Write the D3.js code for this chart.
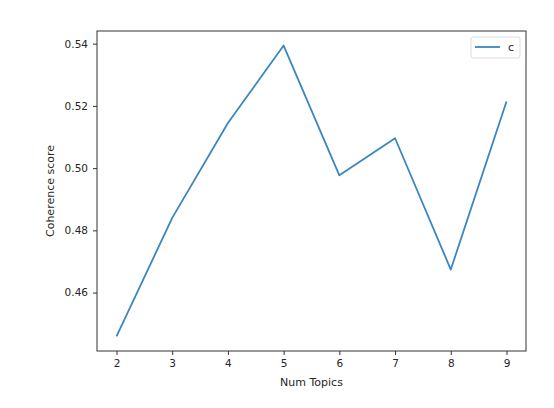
<!DOCTYPE html>
<html>
<head>
<meta charset="utf-8">
<script src="https://cdn.jsdelivr.net/npm/d3@7"></script>
<style>
  body { margin: 0; background: #fff; }
  text { font-family: "DejaVu Sans", sans-serif; fill: #262626; }
</style>
</head>
<body>
<div id="chart"></div>
<script>
// values
var numTopics = [2, 3, 4, 5, 6, 7, 8, 9];
var coherence = [0.4459, 0.4840, 0.5145, 0.5394, 0.4977, 0.5096, 0.4674, 0.5214];
var xTicks = [2, 3, 4, 5, 6, 7, 8, 9];
var yTicks = [0.46, 0.48, 0.50, 0.52, 0.54];
var seriesName = "c";

var width = 554, height = 408;
// plot box (window.top is read-only, so keep these names distinct)
var plotLeft = 97, plotRight = 526, plotTop = 31, plotBottom = 351;

var svg = d3.select("#chart").append("svg")
	.attr("width", width)
	.attr("height", height);

// matplotlib style 5% padding on both axes
var xPad = (d3.max(numTopics) - d3.min(numTopics)) * 0.05;
var yPad = (d3.max(coherence) - d3.min(coherence)) * 0.05;

var x = d3.scaleLinear()
	.domain([d3.min(numTopics) - xPad, d3.max(numTopics) + xPad])
	.range([plotLeft, plotRight]);

var y = d3.scaleLinear()
	.domain([d3.min(coherence) - yPad, d3.max(coherence) + yPad])
	.range([plotBottom, plotTop]);

var xAxis = svg.append("g")
	.attr("transform", "translate(0," + plotBottom + ")")
	.call(d3.axisBottom(x).tickValues(xTicks).tickSize(4).tickPadding(5).tickFormat(d3.format("d")));

var yAxis = svg.append("g")
	.attr("transform", "translate(" + plotLeft + ",0)")
	.call(d3.axisLeft(y).tickValues(yTicks).tickSize(4).tickPadding(5).tickFormat(d3.format(".2f")));

[xAxis, yAxis].forEach(function(g) {
	g.select(".domain").remove();
	g.selectAll(".tick line").attr("stroke", "#333");
	g.selectAll(".tick text")
		.style("font-family", "DejaVu Sans, sans-serif")
		.style("font-size", "10.5px")
		.attr("fill", "#333");
});

// frame
svg.append("rect")
	.attr("x", plotLeft)
	.attr("y", plotTop)
	.attr("width", plotRight - plotLeft)
	.attr("height", plotBottom - plotTop)
	.attr("fill", "none")
	.attr("stroke", "#333")
	.attr("stroke-width", 1);

var line = d3.line()
	.x(function(d, i) { return x(numTopics[i]); })
	.y(function(d) { return y(d); });

svg.append("path")
	.datum(coherence)
	.attr("d", line)
	.attr("fill", "none")
	.attr("stroke", "#3a87c0")
	.attr("stroke-width", 1.8)
	.attr("stroke-linejoin", "round");

// axis labels
svg.append("text")
	.attr("x", (plotLeft + plotRight) / 2)
	.attr("y", 386)
	.attr("text-anchor", "middle")
	.style("font-size", "11px")
	.text("Num Topics");

svg.append("text")
	.attr("transform", "translate(54," + ((plotTop + plotBottom) / 2) + ") rotate(-90)")
	.attr("text-anchor", "middle")
	.style("font-size", "11px")
	.text("Coherence score");

// legend
var legend = svg.append("g").attr("transform", "translate(471,37)");
legend.append("rect")
	.attr("width", 49)
	.attr("height", 21)
	.attr("rx", 2)
	.attr("fill", "#fff")
	.attr("stroke", "#ddd");
legend.append("line")
	.attr("x1", 4).attr("x2", 29)
	.attr("y1", 10).attr("y2", 10)
	.attr("stroke", "#3a87c0")
	.attr("stroke-width", 1.8);
legend.append("text")
	.attr("x", 37)
	.attr("y", 14)
	.style("font-size", "11px")
	.text(seriesName);
</script>
</body>
</html>
